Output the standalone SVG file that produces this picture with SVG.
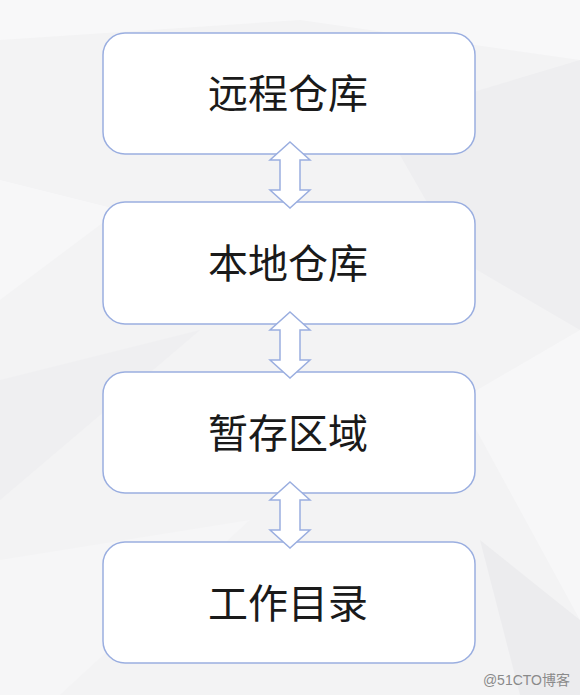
<svg xmlns="http://www.w3.org/2000/svg" width="580" height="695" viewBox="0 0 580 695">
<style>
.box{fill:#ffffff;stroke:#9aaee0;stroke-width:1.5}
.lbl{font-family:"Noto Sans CJK SC","Noto Sans",sans-serif;font-size:40px;fill:#1a1a1a;text-anchor:middle}
.arr{fill:#ffffff;stroke:#9aaee0;stroke-width:1.5;stroke-linejoin:miter}
.bg{stroke:none}
</style>
<g id="background">
<rect x="0" y="0" width="580" height="695" fill="#f3f3f4"/>
<polygon class="bg" points="0,0 580,0 580,60 300,20 0,40" fill="#f8f8f9"/>
<polygon class="bg" points="380,120 580,60 580,330 460,260" fill="#eeeef0"/>
<polygon class="bg" points="0,180 120,210 0,300" fill="#f7f7f8"/>
<polygon class="bg" points="0,380 200,330 0,500" fill="#efeff1"/>
<polygon class="bg" points="460,400 580,330 580,620" fill="#f7f7f8"/>
<polygon class="bg" points="0,560 250,520 60,695 0,695" fill="#f6f6f7"/>
<polygon class="bg" points="480,540 580,620 580,695 520,695" fill="#ececee"/>
</g>
<g id="node-remote">
<rect class="box" x="103" y="33" width="372" height="121" rx="22"/>
<text class="lbl" x="288" y="108">远程仓库</text>
</g>
<g id="node-local">
<rect class="box" x="103" y="202" width="372" height="122" rx="22"/>
<text class="lbl" x="288" y="278">本地仓库</text>
</g>
<g id="node-stage">
<rect class="box" x="103" y="372" width="372" height="121" rx="22"/>
<text class="lbl" x="288" y="448">暂存区域</text>
</g>
<g id="node-work">
<rect class="box" x="103" y="542" width="372" height="121" rx="22"/>
<text class="lbl" x="288" y="618">工作目录</text>
</g>
<g id="connectors">
<polygon class="arr" points="290,142 310,160 300,160 300,190 310,190 290,208 270,190 280,190 280,160 270,160"/>
<polygon class="arr" points="290,312 310,330 300,330 300,360 310,360 290,378 270,360 280,360 280,330 270,330"/>
<polygon class="arr" points="290,482 310,500 300,500 300,530 310,530 290,548 270,530 280,530 280,500 270,500"/>
</g>
<text x="570" y="685" text-anchor="end" font-family="'Liberation Sans','Noto Sans CJK SC',sans-serif" font-size="14" fill="#8a8a8a">@51CTO博客</text>
</svg>
